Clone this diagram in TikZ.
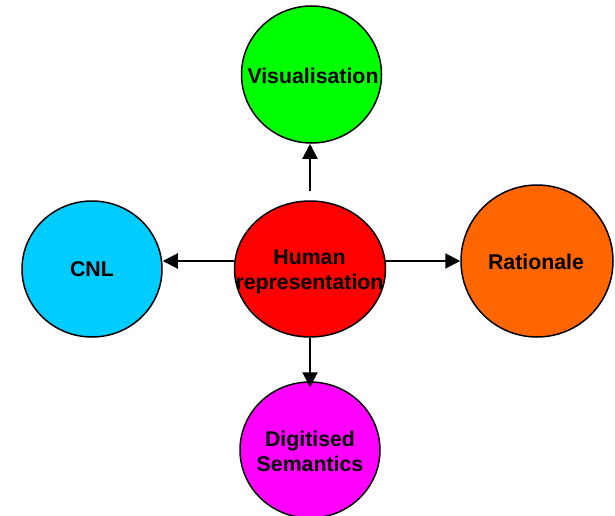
\documentclass[tikz,border=0pt]{standalone}
\usepackage{fontspec}
\setmainfont{Liberation Sans}
\usetikzlibrary{shapes.geometric,arrows.meta}
\begin{document}
\begin{tikzpicture}[x=1pt,y=-1pt,
  blob/.style={ellipse,draw=black,line width=1.5pt,inner sep=0pt},
  txt/.style={font=\fontsize{21.3}{25}\selectfont\bfseries,align=center,inner sep=0pt},
  arr/.style={line width=2pt,-{Triangle[length=15pt,width=15pt]}}]
\useasboundingbox (0,0) rectangle (615,516);
% topic bubbles
\node[blob,fill={rgb,255:red,0;green,255;blue,0},minimum width=140pt,minimum height=137pt] (vis) at (311.5,74.5) {};
\node[blob,fill={rgb,255:red,255;green,0;blue,0},minimum width=151pt,minimum height=136pt] (hr) at (310,269) {};
\node[blob,fill={rgb,255:red,0;green,204;blue,255},minimum width=140pt,minimum height=136pt] (cnl) at (92,269) {};
\node[blob,fill={rgb,255:red,255;green,102;blue,0},minimum width=152pt,minimum height=152pt] (rat) at (537,261) {};
\node[blob,fill={rgb,255:red,255;green,0;blue,255},minimum width=140pt,minimum height=136pt] (dig) at (310,450) {};
% labels
\node[txt] (vis-t) at (313,76) {Visualisation};
\node[txt] (hr-t) at (309.5,272) {Human\\representation};
\node[txt] (cnl-t) at (92,269) {CNL};
\node[txt] (rat-t) at (536,262) {Rationale};
\node[txt] (dig-t) at (310,451) {Digitised\\Semantics};
% connectors
\draw[arr,shorten <=9pt] (hr.north) -- (hr.north |- vis.south);
\draw[arr] ([yshift=8pt]hr.west) -- ([yshift=8pt]cnl.east);
\draw[arr] ([yshift=8pt]hr.east) -- (rat.west);
\draw[arr,shorten >=-6pt] (hr.south) -- (dig.north);
\end{tikzpicture}
\end{document}
